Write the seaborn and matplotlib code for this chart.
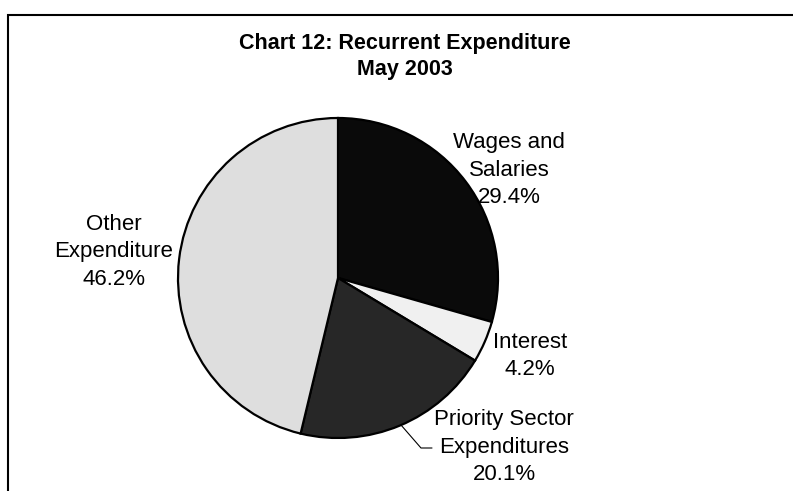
import matplotlib
matplotlib.use("Agg")
import matplotlib.pyplot as plt
import seaborn as sns

# Recurrent expenditure shares, May 2003 (per cent)
categories = ["Wages and\nSalaries", "Interest", "Priority Sector\nExpenditures", "Other\nExpenditure"]
shares = [29.4, 4.2, 20.1, 46.2]
fills = ["#0a0a0a", "#f0f0f0", "#272727", "#dedede"]

sns.set_theme(style="white")
plt.rcParams["font.family"] = ["Liberation Sans", "DejaVu Sans"]

W, H, DPI = 793, 491, 100
fig = plt.figure(figsize=(W / DPI, H / DPI), dpi=DPI)
ax = fig.add_axes([0, 0, 1, 1])

# pixel-based frame: pie centre and radius in pixels
cx, cy, r = 338.0, 278.0, 160.0


def px(x, y):
    """Convert pixel coordinates (top-left origin) to data units."""
    return (x - cx) / r, (cy - y) / r


wedges, _ = ax.pie(
    shares,
    startangle=90,
    counterclock=False,
    colors=fills,
    radius=1.0,
    center=(0, 0),
    wedgeprops=dict(edgecolor="black", linewidth=1.6),
)

# pie() resets the limits, so fix the view afterwards
ax.set_aspect("auto")
ax.set_xlim((0 - cx) / r, (W - cx) / r)
ax.set_ylim((cy - H) / r, cy / r)
ax.axis("off")

# outer chart frame (only top and left edges fall inside the canvas)
x0, y0 = px(8, 15)
x1, y1 = px(W + 10, H + 10)
ax.plot([x0, x0, x1], [y1, y0, y0], color="black", lw=1.5, clip_on=False,
        solid_joinstyle="miter")

# title
tx, ty = px(405, 44)
ax.text(tx, ty, "Chart 12: Recurrent Expenditure", ha="center", va="center",
        fontsize=15.5, fontweight="bold", color="black")
tx, ty = px(405, 69)
ax.text(tx, ty, "May 2003", ha="center", va="center",
        fontsize=15.5, fontweight="bold", color="black")

# data labels
label_pos = [(509, 170), (530, 356), (504, 447), (114, 252)]
for name, val, (lx, ly) in zip(categories, shares, label_pos):
    dx, dy = px(lx, ly)
    ax.text(dx, dy, f"{name}\n{val:.1f}%", ha="center", va="center",
            fontsize=16, color="black", linespacing=1.42)

# leader line for the priority sector label
lx, ly = zip(px(401, 425), px(421, 448), px(432, 448))
ax.plot(lx, ly, color="black", lw=0.8)

fig.savefig("out.png", dpi=DPI, facecolor="white")
